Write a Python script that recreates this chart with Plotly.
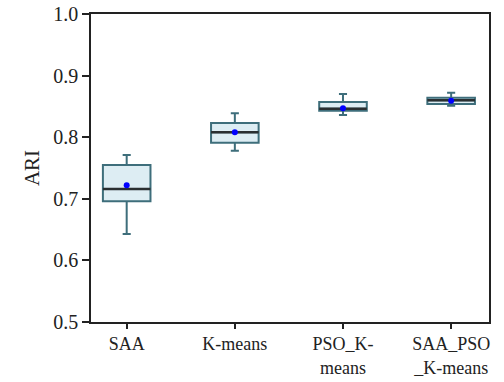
import plotly.graph_objects as go

categories = ["SAA", "K-means", "PSO_K-means", "SAA_PSO_K-means"]
tick_labels = ["SAA", "K-means", "PSO_K-<br>means", "SAA_PSO<br>_K-means"]
lower_whisker = [0.643, 0.778, 0.836, 0.851]
q1 = [0.696, 0.791, 0.843, 0.854]
median = [0.716, 0.808, 0.846, 0.860]
q3 = [0.755, 0.823, 0.857, 0.864]
upper_whisker = [0.771, 0.839, 0.870, 0.872]
mean = [0.722, 0.808, 0.847, 0.859]

font_family = "Liberation Serif, Times New Roman, serif"
box_line = "#3E6E7B"
box_fill = "#DDEDF3"

fig = go.Figure()
fig.add_trace(go.Box(
    x=categories, q1=q1, median=median, q3=q3,
    lowerfence=lower_whisker, upperfence=upper_whisker,
    width=0.44, whiskerwidth=0.17,
    fillcolor=box_fill, line=dict(color=box_line, width=2),
    boxpoints=False, showlegend=False, hoverinfo="skip",
))
# median line overlay (darker)
fig.add_trace(go.Box(
    x=categories, q1=median, median=median, q3=median,
    lowerfence=median, upperfence=median,
    width=0.44, whiskerwidth=0,
    fillcolor="rgba(0,0,0,0)", line=dict(color="#2A2F31", width=2.5),
    boxpoints=False, showlegend=False, hoverinfo="skip",
))
fig.add_trace(go.Scatter(
    x=categories, y=mean, mode="markers",
    marker=dict(color="#0000FF", size=6, symbol="circle"),
    showlegend=False, hoverinfo="skip",
))

fig.update_layout(
    width=504, height=382,
    margin=dict(l=91, r=15, t=14, b=60),
    paper_bgcolor="white", plot_bgcolor="white",
    boxmode="overlay",
    font=dict(family=font_family, size=20, color="#222222"),
)
fig.update_xaxes(
    type="category", range=[-0.33, 3.35], automargin=False,
    tickmode="array", tickvals=categories, ticktext=tick_labels,
    ticks="outside", ticklen=5, tickwidth=1.5, tickcolor="#222",
    showline=True, linecolor="#222", linewidth=1.5, mirror=True,
    showgrid=False, zeroline=False,
    tickfont=dict(family=font_family, size=18, color="#222"),
)
fig.update_yaxes(
    range=[0.5, 1.0], dtick=0.1, tick0=0.5, tickformat=".1f", automargin=False,
    ticks="outside", ticklen=7, tickwidth=1.5, tickcolor="#222",
    showline=True, linecolor="#222", linewidth=1.5, mirror=True,
    showgrid=False, zeroline=False,
    title=dict(text="ARI", font=dict(family=font_family, size=21, color="#222"), standoff=8),
    tickfont=dict(family=font_family, size=20, color="#222"),
)

fig.write_html("out.html")
